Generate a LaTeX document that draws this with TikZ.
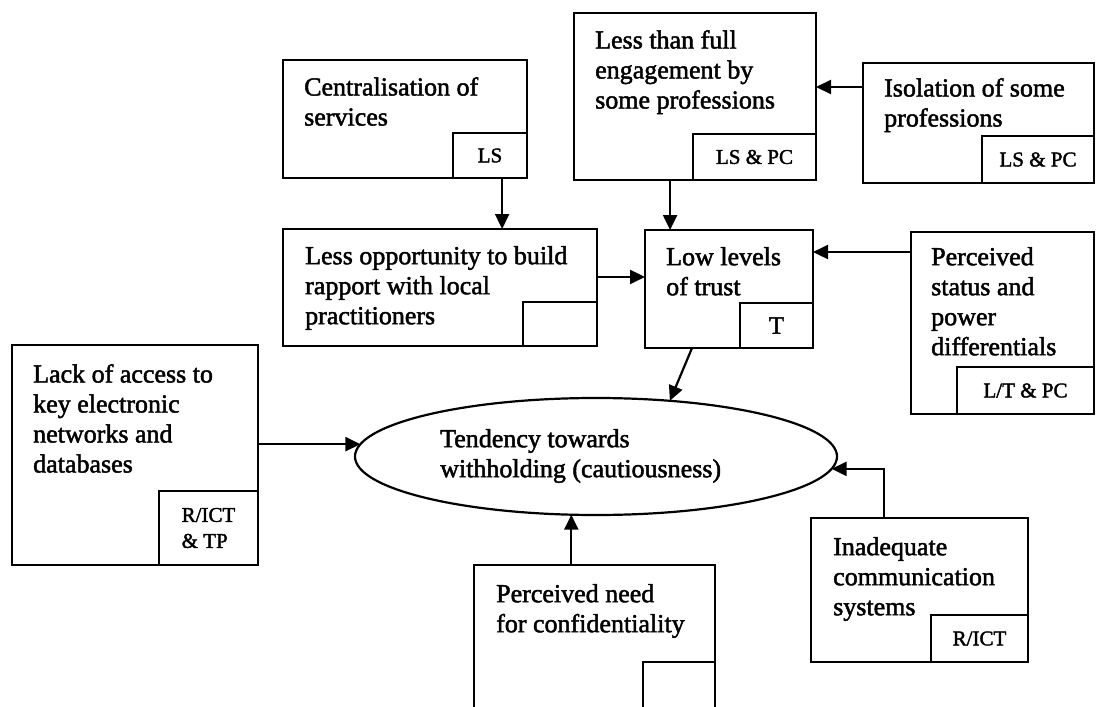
\documentclass[tikz,border=0pt]{standalone}
\usepackage{fontspec}
\setmainfont{Liberation Serif}[FakeBold=1.8]
\usetikzlibrary{arrows.meta,calc,shapes.geometric}

\begin{document}
\begin{tikzpicture}[x=1pt,y=-1pt,
  box/.style={draw, line width=2.2pt, rectangle, inner sep=0pt, outer sep=0pt, anchor=north west},
  tagbox/.style={draw, line width=2.2pt, rectangle, inner sep=0pt, outer sep=0pt, anchor=south east,
                 font=\fontsize{21}{26}\selectfont, align=left},
  txt/.style={font=\fontsize{26}{30}\selectfont, align=left, inner sep=0pt, anchor=north west},
  arr/.style={line width=2.2pt, -{Triangle[length=15pt,width=14pt]}}]

\useasboundingbox (0,0) rectangle (1096,707);
\fill[white] (0,0) rectangle (1096,707);
\clip (0,0) rectangle (1096,707);

% factor boxes
\node[box, minimum width=244pt, minimum height=118pt] (cent) at (283,60) {};
\node[box, minimum width=242pt, minimum height=167pt] (full) at (574,13) {};
\node[box, minimum width=231pt, minimum height=120pt] (iso)  at (863,63) {};
\node[box, minimum width=314pt, minimum height=117pt] (opp)  at (283,229) {};
\node[box, minimum width=168pt, minimum height=118pt] (low)  at (645,230) {};
\node[box, minimum width=183pt, minimum height=182pt] (stat) at (911,232) {};
\node[box, minimum width=246pt, minimum height=220pt] (lack) at (12,345) {};
\node[box, minimum width=241pt, minimum height=160pt] (need) at (474,565) {};
\node[box, minimum width=217pt, minimum height=144pt] (inad) at (811,518) {};

% central outcome
\node[draw, ellipse, line width=2.2pt, minimum width=482pt, minimum height=117pt,
      inner sep=0pt, outer sep=0pt] (ell) at (596,456.5) {};
\node[txt] (ellT) at (440,429) {Tendency towards\\withholding (cautiousness)};

% box texts
\node[txt] (centT) at ($(cent.north west)+(21,17)$) {Centralisation of\\services};
\node[txt] (fullT) at ($(full.north west)+(21,17)$) {Less than full\\engagement by\\some professions};
\node[txt] (isoT)  at ($(iso.north west)+(21,15)$)  {Isolation of some\\professions};
\node[txt] (oppT)  at ($(opp.north west)+(22,17)$)  {Less opportunity to build\\rapport with local\\practitioners};
\node[txt] (lowT)  at ($(low.north west)+(21,17)$)  {Low levels\\of trust};
\node[txt] (statT) at ($(stat.north west)+(20,15)$) {Perceived\\status and\\power\\differentials};
\node[txt] (lackT) at ($(lack.north west)+(21,19)$) {Lack of access to\\key electronic\\networks and\\databases};
\node[txt] (needT) at ($(need.north west)+(22,19)$) {Perceived need\\for confidentiality};
\node[txt] (inadT) at ($(inad.north west)+(22,19)$) {Inadequate\\communication\\systems};

% category tags in the lower right corners
\node[tagbox, minimum width=74pt,  minimum height=45pt] (centG) at (cent.south east) {LS};
\node[tagbox, minimum width=123pt, minimum height=46pt] (fullG) at (full.south east) {LS \& PC};
\node[tagbox, minimum width=112pt, minimum height=47pt] (isoG)  at (iso.south east)  {LS \& PC};
\node[tagbox, minimum width=74pt,  minimum height=44pt] (oppG)  at (opp.south east)  {};
\node[tagbox, minimum width=73pt,  minimum height=45pt, font=\fontsize{25}{30}\selectfont] (lowG) at (low.south east) {T};
\node[tagbox, minimum width=137pt, minimum height=47pt] (statG) at (stat.south east) {L/T \& PC};
\node[tagbox, minimum width=99pt,  minimum height=74pt] (lackG) at (lack.south east) {R/ICT\\\& TP};
\node[tagbox, minimum width=72pt,  minimum height=58pt, anchor=north east] (needG) at ($(need.north east)+(0,97)$) {};
\node[tagbox, minimum width=97pt,  minimum height=47pt] (inadG) at (inad.south east) {R/ICT};

% connectors
\coordinate (c1) at ($(cent.south west)!0.898!(cent.south east)$);
\draw[arr] (c1) -- (c1 |- opp.north);
\coordinate (c2) at ($(full.south west)!0.397!(full.south east)$);
\draw[arr] (c2) -- (c2 |- low.north);
\coordinate (c3) at ($(iso.north west)!0.2!(iso.south west)$);
\draw[arr] (c3) -- (c3 -| full.east);
\coordinate (c4) at ($(opp.north east)!0.41!(opp.south east)$);
\draw[arr] (c4) -- (c4 -| low.west);
\coordinate (c5) at ($(stat.north west)!0.11!(stat.south west)$);
\draw[arr] (c5) -- (c5 -| low.east);
\coordinate (c6) at ($(low.south west)!0.28!(low.south east)$);
\draw[arr] (c6) -- (ell.37);
\draw[arr] (lack.east |- ell.177) -- (ell.177);
\draw[arr] (need.north -| ell.247) -- (ell.247);
\coordinate (c9) at ($(inad.north west)!0.336!(inad.north east)$);
\draw[arr] (c9) |- (ell.-3.4);

\end{tikzpicture}
\end{document}
